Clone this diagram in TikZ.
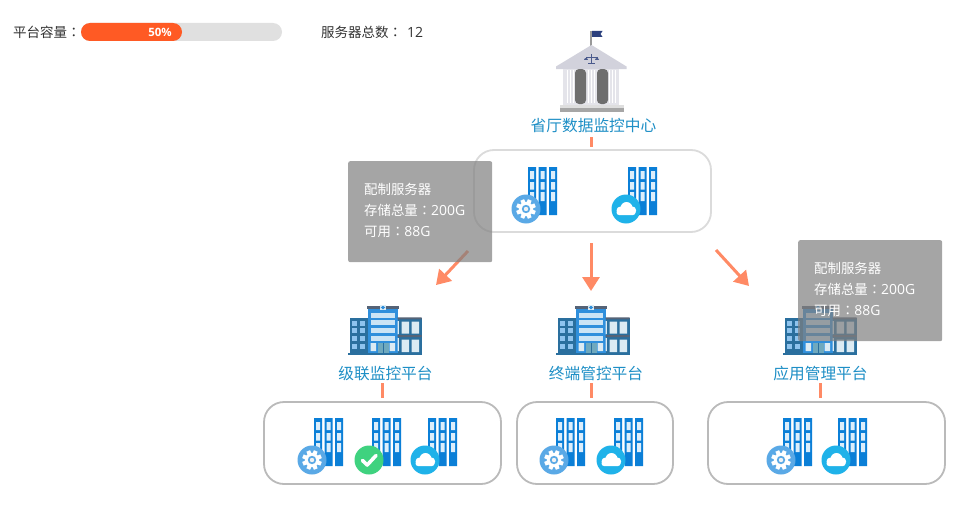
\documentclass[tikz,border=0pt]{standalone}
\usepackage{fontspec}
\setmainfont{Noto Sans CJK SC}
\newfontfamily\tcfont{Noto Sans CJK TC}
\newfontfamily\latinf[Scale=1.04]{Open Sans}
\newcommand{\cln}{{\tcfont ：}}
\newcommand{\lat}[1]{{\latinf #1}}
\usetikzlibrary{arrows.meta}
\definecolor{lblue}{HTML}{1E8FC6}
\definecolor{stubc}{HTML}{FF8A65}
\definecolor{srvblue}{HTML}{0B7FD7}
\definecolor{srvwin}{HTML}{DCEEFB}
\definecolor{gearc}{HTML}{5AA9E6}
\definecolor{checkc}{HTML}{3FD27F}
\definecolor{cloudc}{HTML}{1FB2E9}
\definecolor{wing}{HTML}{2A6F9E}
\definecolor{wingwin}{HTML}{8EC3EE}
\definecolor{roofc}{HTML}{556377}
\definecolor{mainb}{HTML}{2F8FDC}
\definecolor{barl}{HTML}{CBE4F5}
\definecolor{doorc}{HTML}{6FA9BE}
\definecolor{rwin}{HTML}{DCEBF3}
\definecolor{txt}{HTML}{333333}
\definecolor{roofg}{HTML}{D2D2DC}
\definecolor{navy}{HTML}{2B3F7D}
\definecolor{scalec}{HTML}{4A5A8C}
\definecolor{colg}{HTML}{E4E4EA}
\definecolor{darkc}{HTML}{6E6E6E}
\tikzset{
  x=1pt,y=-1pt,
  lbl/.style={text=lblue,font=\fontsize{15.7}{15.7}\selectfont,inner sep=0pt},
  plain/.style={text=txt,font=\fontsize{13.5}{14}\selectfont,inner sep=0pt,anchor=west},
  groupbox/.style={draw=#1,line width=1.8pt,rounded corners=20pt,inner sep=0pt,outer sep=0pt,anchor=north west},
  stub/.style={draw=stubc,line width=3pt},
  flow/.style={draw=stubc,line width=3pt,-{Triangle[length=14pt,width=17pt,fill=stubc]}},
  tip/.style={fill={rgb,255:red,128;green,128;blue,128},fill opacity=.7,text opacity=1,text=white,rounded corners=2pt,
    anchor=north west,minimum width=144pt,minimum height=101pt,inner xsep=16pt,inner ysep=0pt,align=left,text width=112pt,
    font=\fontsize{13.4}{21.5}\selectfont},
  server/.pic={
    \fill[srvblue] (0,0) rectangle (8,48) (10.5,0) rectangle (18.5,48) (21,0) rectangle (29,48);
    \foreach \c in {2,12.5,23}{
      \fill[srvwin] (\c,4) rectangle ++(4,8) (\c,15) rectangle ++(4,7.5) (\c,25) rectangle ++(4,9);
    }
  },
  gearbadge/.pic={
    \fill[gearc] (0,0) circle (14.5);
    \foreach \a in {0,45,...,315}{
      \fill[white,rotate=\a+22.5] (-2,-9.8) rectangle (2,-5);
    }
    \fill[white] (0,0) circle (7.2);
    \fill[gearc] (0,0) circle (4.2);
    \fill[black!5] (0,0) circle (2.2);
  },
  checkbadge/.pic={
    \fill[checkc] (0,0) circle (14.5);
    \draw[white,line width=3.6pt,line cap=round,line join=round] (-6.5,0.5) -- (-1.8,5) -- (7,-4.5);
  },
  cloudbadge/.pic={
    \fill[cloudc] (0,0) circle (14.5);
    \fill[white,rounded corners=2.5pt] (-9.5,1) rectangle (9.5,6);
    \fill[white] (-5.5,1.5) circle (4) (0.5,-1) circle (6) (6,1.5) circle (4.2);
  },
  hospital/.pic={
    \fill[wing] (2,13) rectangle (20,49);
    \foreach \cx in {4,11.7}{
      \foreach \cy in {16,23.3,30.7,39}{
        \fill[wingwin] (\cx,\cy) rectangle ++(5,5);
      }
    }
    \fill[mainb] (20,3) rectangle (49.5,49);
    \fill[roofc] (19,1) rectangle (50.5,3.6);
    \fill[rwin] (32,0) rectangle (38,5);
    \fill[mainb] (34.2,1) rectangle (35.8,4) (32.8,1.8) rectangle (37.2,3.2);
    \foreach \cy in {7.5,15,22.7,30.5}{
      \fill[barl] (22.5,\cy) rectangle (47,\cy+5.3);
    }
    \fill[rwin] (22.5,38) rectangle (28,46) (41.5,38) rectangle (47,46);
    \fill[doorc] (29.5,37.5) rectangle (41,49);
    \fill[wing] (35,37.5) rectangle (35.6,49);
    \fill[wing] (49.5,13) rectangle (73.5,49);
    \fill[rwin] (49.5,16) rectangle (50.8,29) (49.5,33) rectangle (50.8,46);
    \fill[roofc] (49.5,12.3) rectangle (73.5,14.3) (49.5,30) rectangle (73.5,32);
    \foreach \cx in {53.5,63.5}{
      \fill[rwin] (\cx,16.5) rectangle ++(7.5,12) (\cx,34.5) rectangle ++(7.5,12.5);
    }
    \fill[wing] (0,48) rectangle (73.5,49.5);
  },
  bank/.pic={
    \fill[gray!80] (-0.8,0) rectangle (1.2,15);
    \fill[navy] (1,0) -- (11.5,0) -- (9.5,3) -- (11.5,6) -- (1,6) -- cycle;
    \fill[roofg] (0.5,14) -- (35.5,35.5) -- (35.5,38) -- (-35,38) -- (-35,35.5) -- cycle;
    \draw[scalec,line width=.7pt] (0.5,23) -- (0.5,33) (-5,26) -- (6,26) (-3,32.5) -- (4,32.5);
    \draw[scalec,line width=.7pt] (-5,26) -- (-5,29) (6,26) -- (6,29);
    \fill[scalec] (-7,29) arc (180:360:2) -- cycle (4,29) arc (180:360:2) -- cycle;
    \fill[colg] (-28,38) rectangle (28,74);
    \foreach \cx in {-26,-5,16.5}{
      \fill[colg] (\cx,39) rectangle ++(11,33);
      \foreach \d in {1.5,4.5,7.5}{\fill[white] (\cx+\d,39) rectangle ++(1.4,33);}
    }
    \fill[darkc,rounded corners=4pt] (-16,38) rectangle (-5,73);
    \fill[darkc,rounded corners=4pt] (6,38) rectangle (17,73);
    \fill[black!13] (-31,74) rectangle (33,78);
    \fill[black!35] (-31,77) rectangle (33,81);
  },
}
\begin{document}
\begin{tikzpicture}
\useasboundingbox (0,0) rectangle (971,511);
\fill[white] (0,0) rectangle (971,511);

% header
\node[plain] (cap) at (13,32) {平台容量\cln};
\node[fill={rgb,255:red,224;green,224;blue,224},rounded corners=9pt,minimum width=201pt,minimum height=18pt,inner sep=0pt,outer sep=0pt,anchor=north west] (bar) at (81,23) {};
\node[fill={rgb,255:red,255;green,90;blue,36},rounded corners=9pt,minimum width=101pt,minimum height=18pt,inner sep=0pt,outer sep=0pt,anchor=north west] (barf) at (81,23) {};
\node[text=white,font=\fontsize{11}{11}\selectfont\bfseries,inner sep=0pt] (pct) at (160,32) {\lat{50\%}};
\node[plain] (tot) at (321,32) {服务器总数\cln};
\node[plain] (totn) at (407,32) {\lat{12}};

% top centre
\pic at (591,31) {bank};
\node[lbl] (ltop) at (593.5,125.5) {省厅数据监控中心};
\node[groupbox=black!14,minimum width=237pt,minimum height=82pt] (b0) at (474,150) {};

% buildings
\pic at (348,305) {hospital};
\pic at (556,305) {hospital};
\pic at (783,305) {hospital};
\node[lbl] (l1) at (385.5,373.5) {级联监控平台};
\node[lbl] (l2) at (596,373.5) {终端管控平台};
\node[lbl] (l3) at (820.5,373.5) {应用管理平台};

% lower groups
\node[groupbox=black!27,minimum width=237pt,minimum height=82pt] (b1) at (264,402) {};
\node[groupbox=black!27,minimum width=156pt,minimum height=82pt] (b2) at (517,402) {};
\node[groupbox=black!27,minimum width=237pt,minimum height=82pt] (b3) at (708,402) {};

% stubs
\coordinate (s0) at (591,137);
\coordinate (s1) at (382,383);
\coordinate (s2) at (591,383);
\coordinate (s3) at (820,383);
\draw[stub,shorten >=3pt] (s0) -- (s0 |- b0.north);
\draw[stub,shorten >=4pt] (s1) -- (s1 |- b1.north);
\draw[stub,shorten >=4pt] (s2) -- (s2 |- b2.north);
\draw[stub,shorten >=4pt] (s3) -- (s3 |- b3.north);

% flow arrows
\coordinate (a1s) at (468,251);
\coordinate (a1e) at (436,285);
\coordinate (a2s) at (591,243);
\coordinate (a2e) at (591,291);
\coordinate (a3s) at (716,250);
\coordinate (a3e) at (749,286);
\draw[flow] (a1s) -- (a1e);
\draw[flow] (a2s) -- (a2e);
\draw[flow] (a3s) -- (a3e);

% servers and badges
\pic at (528,167) {server}; \pic at (526,209) {gearbadge};
\pic at (628,167) {server}; \pic at (626,209) {cloudbadge};
\pic at (314,418) {server}; \pic at (312,460) {gearbadge};
\pic at (372,418) {server}; \pic at (369,460) {checkbadge};
\pic at (428,418) {server}; \pic at (425,460) {cloudbadge};
\pic at (556,418) {server}; \pic at (554,460) {gearbadge};
\pic at (614,418) {server}; \pic at (611,460) {cloudbadge};
\pic at (783,418) {server}; \pic at (781,460) {gearbadge};
\pic at (838,418) {server}; \pic at (836,460) {cloudbadge};

% tooltips
\node[tip] (t1) at (348,161) {配制服务器\\[-0.3pt]存储总量\cln\lat{200G}\\[-0.3pt]可用\cln\lat{88G}\vphantom{g}\\[2pt]};
\node[tip] (t2) at (798,240) {配制服务器\\[-0.3pt]存储总量\cln\lat{200G}\\[-0.3pt]可用\cln\lat{88G}\vphantom{g}\\[2pt]};
\end{tikzpicture}
\end{document}
